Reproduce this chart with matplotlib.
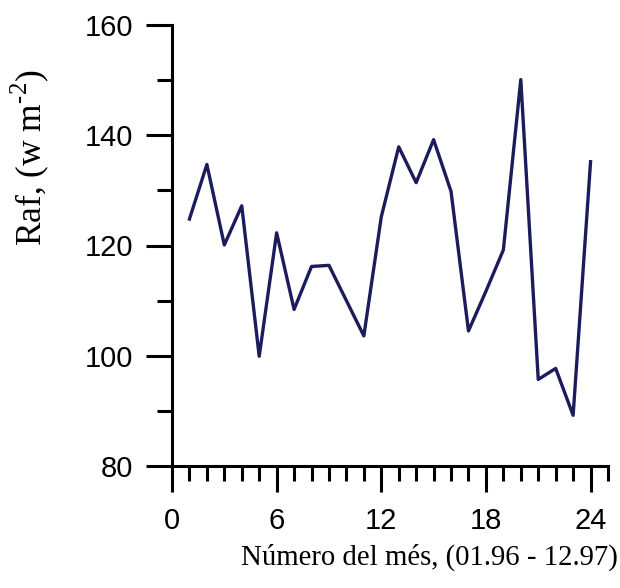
import matplotlib
matplotlib.use("Agg")
import matplotlib.pyplot as plt
from matplotlib.ticker import MultipleLocator

months = list(range(1, 25))
raf = [124.8, 134.7, 120.1, 127.2, 99.9, 122.3, 108.4, 116.2, 116.4, 110.0,
       103.6, 125.2, 137.9, 131.4, 139.2, 129.8, 104.5, 111.7, 119.2, 150.1,
       95.7, 97.7, 89.2, 135.2]
xticks = [0, 6, 12, 18, 24]
yticks = [80, 100, 120, 140, 160]

plt.rcParams['mathtext.fontset'] = 'custom'
plt.rcParams['mathtext.rm'] = 'Liberation Serif'

fig = plt.figure(figsize=(6.2, 5.88), dpi=100)
ax = fig.add_axes([172/620, 1-466/588, 436/620, 441/588])
ax.plot(months, raf, color='#1c1c5c', lw=2.4)

ax.set_xlim(0, 25)
ax.set_ylim(80, 160)
ax.set_xticks(xticks)
ax.set_yticks(yticks)
ax.xaxis.set_minor_locator(MultipleLocator(1))
ax.yaxis.set_minor_locator(MultipleLocator(10))
for s in ['top', 'right']:
    ax.spines[s].set_visible(False)
for s in ['left', 'bottom']:
    ax.spines[s].set_linewidth(2.2)
ax.tick_params(which='major', length=18.7, width=2.2, labelsize=21, pad=9)
ax.tick_params(axis='x', which='major', pad=11)
ax.tick_params(which='minor', length=11, width=2.2)
for lab in ax.get_xticklabels() + ax.get_yticklabels():
    lab.set_fontfamily('Liberation Sans')

ax.set_ylabel('Raf, (w m$^{\\text{-2}}$)', fontfamily='Liberation Serif', fontsize=25.5)
ax.yaxis.set_label_coords(-0.326, 0.70)
ax.set_xlabel('Número del més, (01.96 - 12.97)', fontfamily='Liberation Serif', fontsize=20.7)
ax.xaxis.set_label_coords(1.023, -0.206)
ax.xaxis.label.set_horizontalalignment('right')
ax.xaxis.label.set_verticalalignment('center')
ax.yaxis.label.set_verticalalignment('center')

fig.savefig('out.png', dpi=100)
